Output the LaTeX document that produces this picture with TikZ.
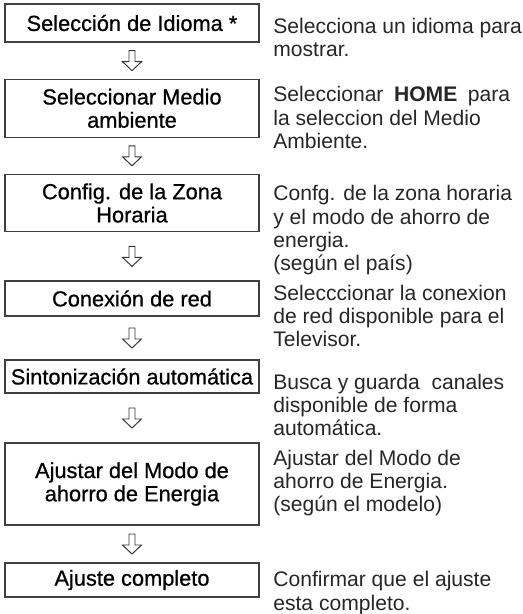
\documentclass[tikz,border=0pt]{standalone}
\usepackage{fontspec}
\setmainfont{Liberation Sans}
\newfontfamily\pasofont{Liberation Sans}[FakeBold=0.7]
\usetikzlibrary{calc}

\tikzset{
  paso/.style={draw=black!75, line width=0.6pt, minimum width=50.8mm, inner sep=0pt,
    align=center, font=\pasofont\fontsize{12.4}{13.2}\selectfont},
  desc/.style={anchor=north west, inner sep=0pt, align=left, text=black!85,
    font=\fontsize{12}{13.2}\selectfont},
  flecha/.style={draw=black!80, line width=0.55pt, fill=white, line join=miter}
}

\begin{document}
\begin{tikzpicture}[x=0.2mm, y=-0.2mm]
\useasboundingbox (0,0) rectangle (523,614);

% Steps (one pixel of the reference = 0.2mm, y grows downwards)
\node[paso, minimum height=7.6mm]   (idioma)  at (132,23)    {Selección de Idioma *};
\node[paso, minimum height=11.6mm]  (medio)   at (132,108.3) {Seleccionar Medio\\ambiente};
\node[paso, minimum height=11.5mm]  (zona)    at (132,203)   {Config. de la Zona\\Horaria};
\node[paso, minimum height=7mm]     (red)     at (132,298.5) {Conexión de red};
\node[paso, minimum height=6.6mm]   (sinto)   at (132,376.5) {Sintonización automática};
\node[paso, minimum height=16.4mm]  (ahorro)  at (132,484)   {Ajustar del Modo de\\ahorro de Energia};
\node[paso, minimum height=6.8mm]   (ajuste)  at (132,580)   {Ajuste completo};

% Descriptions (top of first line)
\node[desc] (didioma) at (273,17.9)  {Selecciona un idioma para\\mostrar.};
\node[desc] (dmedio)  at (273,86.3)  {Seleccionar\enspace\textbf{HOME}\enspace para\\la seleccion del Medio\\Ambiente.};
\node[desc] (dzona)   at (273,185.3) {Confg. de la zona horaria\\y el modo de ahorro de\\energia.\\(según el país)};
\node[desc] (dred)    at (273,284.6) {Selecccionar la conexion\\de red disponible para el\\Televisor.};
\node[desc] (dsinto)  at (273,373.6) {Busca y guarda\ \ canales\\disponible de forma\\automática.};
\node[desc] (dahorro) at (273,449.8) {Ajustar del Modo de\\ahorro de Energia.\\(según el modelo)};
\node[desc] (dajuste) at (273,571.3) {Confirmar que el ajuste\\esta completo.};

% Hollow arrows between the steps
\foreach \a/\b in {idioma/medio, medio/zona, zona/red, red/sinto, sinto/ahorro, ahorro/ajuste} {
  \coordinate (m) at ($(\a.south)!0.5!(\b.north)$);
  \draw[flecha] ([shift={(-3,-10)}]m) -- ([shift={(3,-10)}]m) -- ([shift={(3,1)}]m)
    -- ([shift={(9.5,1)}]m) -- ([shift={(0,10)}]m) -- ([shift={(-9.5,1)}]m)
    -- ([shift={(-3,1)}]m) -- cycle;
}
\end{tikzpicture}
\end{document}
